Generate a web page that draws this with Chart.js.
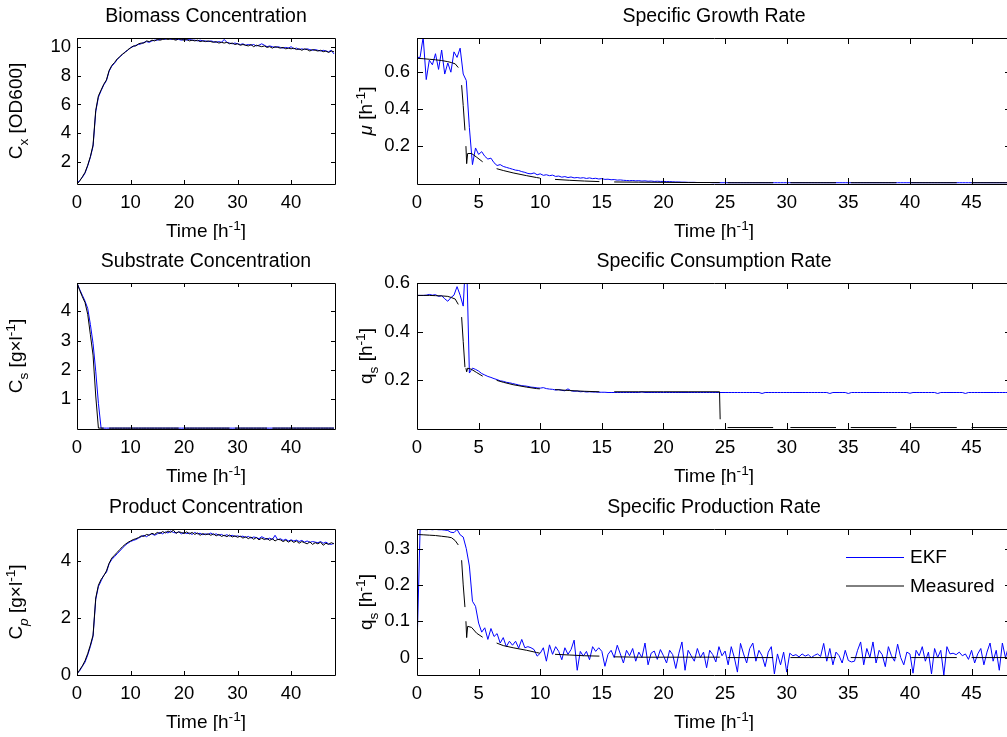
<!DOCTYPE html>
<html>
<head>
<meta charset="utf-8">
<script src="https://cdn.jsdelivr.net/npm/chart.js@4.4.1/dist/chart.umd.min.js"></script>
<style>
  html, body { margin: 0; padding: 0; background: #fff; overflow: hidden; width: 1007px; height: 737px; }
  canvas { position: absolute; }
</style>
</head>
<body>
<script>
// --- time grids (h) ---
const tConc = [
  0,0.5,1,1.5,2,2.5,3,3.5,4,4.5,
  5,5.5,6,6.5,7,7.5,8,8.5,9,9.5,
  10,10.5,11,11.5,12,12.5,13,13.5,14,14.5,
  15,15.5,16,16.5,17,17.5,18,18.5,19,19.5,
  20,20.5,21,21.5,22,22.5,23,23.5,24,24.5,
  25,25.5,26,26.5,27,27.5,28,28.5,29,29.5,
  30,30.5,31,31.5,32,32.5,33,33.5,34,34.5,
  35,35.5,36,36.5,37,37.5,38,38.5,39,39.5,
  40,40.5,41,41.5,42,42.5,43,43.5,44,44.5,
  45,45.5,46,46.5,47,47.5,48
];
const tRate = [
  0,0.25,0.5,0.75,1,1.25,1.5,1.75,2,2.25,2.5,2.75,3,3.25,3.5,3.75,4,4.25,4.5,4.75,
  5,5.25,5.5,5.75,6,6.25,6.5,6.75,7,7.25,7.5,7.75,8,8.25,8.5,8.75,9,9.25,9.5,9.75,
  10,10.25,10.5,10.75,11,11.25,11.5,11.75,12,12.25,12.5,12.75,13,13.25,13.5,13.75,14,14.25,14.5,14.75,
  15,15.25,15.5,15.75,16,16.25,16.5,16.75,17,17.25,17.5,17.75,18,18.25,18.5,18.75,19,19.25,19.5,19.75,
  20,20.25,20.5,20.75,21,21.25,21.5,21.75,22,22.25,22.5,22.75,23,23.25,23.5,23.75,24,24.25,24.5,24.75,
  25,25.25,25.5,25.75,26,26.25,26.5,26.75,27,27.25,27.5,27.75,28,28.25,28.5,28.75,29,29.25,29.5,29.75,
  30,30.25,30.5,30.75,31,31.25,31.5,31.75,32,32.25,32.5,32.75,33,33.25,33.5,33.75,34,34.25,34.5,34.75,
  35,35.25,35.5,35.75,36,36.25,36.5,36.75,37,37.25,37.5,37.75,38,38.25,38.5,38.75,39,39.25,39.5,39.75,
  40,40.25,40.5,40.75,41,41.25,41.5,41.75,42,42.25,42.5,42.75,43,43.25,43.5,43.75,44,44.25,44.5,44.75,
  45,45.25,45.5,45.75,46,46.25,46.5,46.75,47,47.25,47.5,47.75,48
];
// measured rates: irregular samples, null = missing
const tMeas = [
  0,0.5,1,1.5,2,2.5,2.8,3.1,3.35,3.45,
  3.62,3.75,3.89,3.93,
  3.97,4.03,4.11,4.43,4.84,5.33,5.8,
  6.46,7.0,7.8,8.9,9.7,9.97,10.5,
  11.2,12.4,13.6,14.8,15.4,
  16.0,18.0,20.0,22.0,24.55,24.6,24.9,
  25.2,28.9,29.6,30.3,34.0,34.6,35.2,38.9,39.5,40.1,43.8,44.4,45.0,48.2
];

// --- biomass Cx [OD600] ---
const cxEkf = [
  0.55,0.75,0.95,1.25,1.75,2.35,3.1,5.5,6.5,6.95,
  7.35,7.65,8.3,8.65,8.85,9.1,9.3,9.45,9.65,9.75,
  9.95,10.0,10.1,10.15,10.2,10.3,10.35,10.3,10.4,10.45,
  10.45,10.5,10.55,10.5,10.6,10.5,10.55,10.5,10.5,10.45,
  10.5,10.45,10.5,10.45,10.45,10.4,10.45,10.4,10.4,10.35,
  10.4,10.35,10.3,10.35,10.3,10.5,10.3,10.25,10.2,10.25,
  10.2,10.15,10.2,10.1,10.15,10.1,10.15,10.05,10.1,10.2,
  10.1,10.0,10.05,10.0,9.95,10.0,9.95,9.9,9.95,9.9,
  10.0,9.85,9.9,9.8,9.85,9.8,9.85,9.8,9.75,9.8,
  9.75,9.7,9.75,9.7,9.65,9.75,9.5
];
const cxMeas = [
  0.5,0.7,1.0,1.3,1.8,2.4,3.2,5.6,6.6,7.0,
  7.4,7.7,8.35,8.7,8.9,9.15,9.3,9.5,9.6,9.8,
  9.9,10.05,10.05,10.2,10.25,10.25,10.4,10.35,10.45,10.4,
  10.5,10.45,10.5,10.55,10.5,10.55,10.5,10.45,10.55,10.5,
  10.45,10.5,10.4,10.45,10.4,10.45,10.35,10.4,10.35,10.4,
  10.35,10.3,10.35,10.25,10.3,10.25,10.3,10.2,10.25,10.15,
  10.2,10.1,10.15,10.1,10.05,10.15,10.0,10.1,10.05,10.0,
  10.05,9.95,10.0,9.9,10.0,9.95,9.9,9.95,9.85,9.9,
  9.85,9.9,9.8,9.85,9.75,9.85,9.8,9.7,9.8,9.75,
  9.7,9.75,9.65,9.7,9.6,9.7,9.65
];

// --- substrate Cs [g/l] ---
const csEkf = [
  4.97,4.75,4.55,4.35,4.1,3.55,2.9,1.95,0.85,0,
  0,0,0,0,0,0,0,0,0,0,
  0,0,0,0,0,0,0,0,0,0,
  0,0,0,0,0,0,0,0,0,0,
  0,0,0,0,0,0,0,0,0,0,
  0,0,0,0,0,0,0,0,0,0,
  0,0,0,0,0,0,0,0,0,0,
  0,0,0,0,0,0,0,0,0,0,
  0,0,0,0,0,0,0,0,0,0,
  0,0,0,0,0,0,0
];
const csMeas = [
  4.97,4.72,4.5,4.3,3.9,3.2,2.5,1.1,0,0,
  0,null,0,0,0,0,0,0,0,0,
  0,0,0,0,0,0,0,0,0,0,
  0,0,0,0,0,0,0,0,0,null,
  0,0,0,0,0,0,0,0,0,0,
  0,0,0,0,0,0,0,0,null,0,
  0,0,0,0,0,0,0,0,0,0,
  0,0,null,0,0,0,0,0,0,0,
  0,0,0,0,0,0,0,0,0,0,
  0,0,0,0,0,0,0
];

// --- product Cp [g/l] ---
const cpEkf = [
  0.05,0.15,0.3,0.45,0.7,1.0,1.35,2.65,3.1,3.3,
  3.5,3.6,3.9,4.05,4.15,4.25,4.35,4.45,4.55,4.62,
  4.68,4.72,4.75,4.8,4.85,4.9,4.85,4.92,4.95,4.9,
  4.95,5.0,4.95,5.02,4.98,5.05,5.0,4.98,5.02,4.95,
  5.0,4.96,4.98,4.93,5.0,4.95,4.97,4.92,4.95,4.93,
  4.98,4.92,4.95,4.9,4.93,4.88,4.92,4.87,4.9,4.86,
  4.88,4.85,4.87,4.82,4.86,4.8,4.84,4.82,4.78,4.85,
  4.8,4.76,4.8,4.75,4.9,4.74,4.78,4.72,4.76,4.7,
  4.74,4.7,4.73,4.68,4.72,4.66,4.7,4.65,4.68,4.66,
  4.64,4.68,4.62,4.66,4.6,4.58,4.62
];
const cpMeas = [
  0.03,0.18,0.32,0.5,0.75,1.05,1.4,2.7,3.15,3.35,
  3.48,3.65,3.92,4.1,4.2,4.3,4.4,4.5,4.58,4.65,
  4.7,4.75,4.78,4.82,4.88,4.86,4.93,4.9,4.97,4.93,
  5.0,4.96,5.03,4.98,5.05,5.0,5.08,4.97,5.02,5.0,
  4.96,5.02,4.95,5.0,4.93,4.98,4.9,4.96,4.92,4.95,
  4.9,4.95,4.88,4.93,4.86,4.9,4.85,4.91,4.84,4.88,
  4.83,4.87,4.8,4.85,4.78,4.84,4.76,4.82,4.74,4.8,
  4.75,4.79,4.72,4.78,4.7,4.76,4.74,4.68,4.73,4.66,
  4.72,4.65,4.7,4.62,4.68,4.64,4.6,4.67,4.58,4.64,
  4.6,4.66,4.55,4.62,4.58,4.64,4.6
];

// --- specific growth rate mu [1/h] ---
const muEkf = [
  0.68,0.68,0.79,0.56,0.665,0.64,0.70,0.615,0.72,0.59,0.65,0.60,0.71,0.68,0.73,0.59,0.555,0.30,0.10,0.19,
  0.155,0.17,0.145,0.13,0.135,0.11,0.095,0.10,0.09,0.085,0.08,0.075,0.07,0.068,0.062,0.058,0.052,0.05,0.055,0.045,
  0.05,0.042,0.045,0.04,0.043,0.036,0.038,0.032,0.035,0.03,0.033,0.028,0.03,0.027,0.029,0.025,0.028,0.024,0.026,0.022,
  0.024,0.02,0.021,0.018,0.019,0.016,0.017,0.015,0.014,0.013,0.014,0.012,0.013,0.011,0.012,0.01,0.011,0.009,0.01,0.009,
  0.009,0.008,0.008,0.007,0.006,0.006,0.005,0.005,0.004,0.004,0.004,0.003,0.003,0.003,0.003,0.003,0.002,0.002,0.002,0.002,
  0.002,0.002,0.002,0.002,0.002,0.002,0.002,0.002,0.002,0.002,0.002,0.002,0.002,0.002,0.002,0.002,0.002,0.002,0.002,0.002,
  0.002,0.002,0.002,0.002,0.002,0.002,0.002,0.002,0.002,0.002,0.002,0.002,0.002,0.002,0.002,0.002,0.002,0.002,0.002,0.002,
  0.002,0.002,0.002,0.002,0.002,0.002,0.002,0.002,0.002,0.002,0.002,0.002,0.002,0.002,0.002,0.002,0.002,0.002,0.002,0.002,
  0.002,0.002,0.002,0.002,0.002,0.002,0.002,0.002,0.002,0.002,0.002,0.002,0.002,0.002,0.002,0.002,0.002,0.002,0.002,0.002,
  0.002,0.002,0.002,0.002,0.002,0.002,0.002,0.002,0.002,0.002,0.002,0.002,0.002
];
const muMeas = [
  0.675,0.673,0.67,0.667,0.663,0.657,0.652,0.645,0.625,null,
  0.53,0.42,0.285,null,
  0.2,0.105,0.16,0.16,0.14,0.115,null,
  0.078,0.068,0.055,0.04,0.03,0.027,null,
  0.02,0.015,0.011,0.008,null,
  0.006,0.005,0.004,0.003,0.003,0.003,null,
  0.002,0.002,null,0.002,0.002,null,0.002,0.002,null,0.002,0.002,null,0.002,0.002
];

// --- specific consumption rate qs [1/h] ---
const qsEkf = [
  0.549,0.549,0.549,0.55,0.553,0.55,0.552,0.545,0.548,0.535,0.525,0.54,0.55,0.585,0.55,0.505,0.75,0.23,0.25,0.245,
  0.238,0.228,0.222,0.216,0.212,0.207,0.203,0.198,0.196,0.192,0.19,0.187,0.184,0.181,0.178,0.177,0.175,0.172,0.171,0.169,
  0.168,0.17,0.166,0.164,0.163,0.16,0.162,0.159,0.157,0.165,0.157,0.155,0.156,0.153,0.154,0.152,0.153,0.152,0.152,0.151,
  0.151,0.151,0.15,0.15,0.15,0.15,0.15,0.15,0.15,0.15,0.15,0.15,0.15,0.152,0.15,0.15,0.15,0.15,0.15,0.15,
  0.15,0.15,0.15,0.15,0.15,0.15,0.15,0.15,0.15,0.15,0.15,0.15,0.15,0.15,0.15,0.15,0.15,0.15,0.15,0.15,
  0.15,0.15,0.15,0.15,0.15,0.15,0.15,0.15,0.15,0.15,0.15,0.15,0.146,0.15,0.15,0.15,0.15,0.15,0.15,0.15,
  0.15,0.15,0.15,0.15,0.15,0.15,0.15,0.15,0.15,0.15,0.15,0.15,0.15,0.15,0.146,0.15,0.15,0.15,0.15,0.15,
  0.146,0.15,0.15,0.15,0.15,0.15,0.15,0.15,0.15,0.15,0.15,0.15,0.15,0.15,0.15,0.15,0.15,0.15,0.15,0.15,
  0.147,0.15,0.15,0.15,0.15,0.15,0.15,0.15,0.15,0.146,0.15,0.15,0.15,0.15,0.15,0.15,0.15,0.15,0.146,0.15,
  0.15,0.15,0.15,0.15,0.15,0.15,0.15,0.15,0.15,0.15,0.15,0.15,0.15
];
const qsMeas = [
  0.549,0.549,0.549,0.548,0.547,0.545,0.54,0.534,0.512,null,
  0.46,0.36,0.254,null,
  0.25,0.235,0.25,0.245,0.232,0.217,null,
  0.2,0.192,0.182,0.172,0.166,0.165,null,
  0.162,0.158,0.155,0.153,null,
  0.153,0.153,0.153,0.153,0.153,0.04,null,
  0.006,0.006,null,0.006,0.006,null,0.006,0.006,null,0.006,0.006,null,0.006,0.006
];

// --- specific production rate qp [1/h] ---
const qpEkf = [
  0.025,0.352,0.353,0.352,0.353,0.352,0.353,0.352,0.352,0.351,0.35,0.345,0.344,0.353,0.338,0.332,0.3,0.252,0.155,0.141,
  0.095,0.07,0.082,0.05,0.08,0.058,0.066,0.04,0.055,0.03,0.045,0.034,0.045,0.026,0.05,0.027,0.03,0.027,0.022,0.004,
  0.012,0.027,-0.01,0.035,0.009,0.03,0.017,-0.006,0.027,0.009,0.022,0.048,-0.035,0.017,0.004,0.017,-0.006,0.03,0.017,0.027,
  0.017,-0.024,0.009,0.02,0.0,0.034,0.01,-0.015,0.02,0.005,0.025,-0.01,0.015,0.0,0.04,-0.02,0.012,0.018,-0.005,0.022,
  0.005,-0.015,0.02,0.008,-0.03,0.012,0.043,-0.035,0.02,0.005,-0.01,0.025,0.0,0.015,-0.028,0.02,0.008,-0.012,0.03,0.005,
  0.018,-0.02,0.03,0.0,-0.04,0.039,0.01,-0.015,0.025,0.04,-0.01,0.02,0.005,-0.025,0.015,0.03,-0.045,0.01,-0.02,0.015,
  -0.04,0.012,0.005,0.008,0.002,0.01,0.004,0.008,0.0,0.006,0.01,0.003,0.039,-0.01,0.025,-0.02,0.015,0.005,-0.015,0.02,
  -0.008,-0.012,-0.01,0.02,0.043,-0.02,0.025,0.0,0.043,-0.015,0.02,0.008,-0.025,0.03,0.005,-0.01,0.037,0.0,-0.02,0.015,
  0.01,-0.043,0.02,0.005,0.03,-0.01,0.015,-0.045,0.025,0.0,0.02,-0.048,0.03,0.01,0.012,0.008,0.015,0.005,0.01,-0.005,
  0.02,-0.015,0.01,0.025,-0.02,0.015,0.04,-0.01,0.02,-0.035,0.04,0.0,0.03
];
const qpMeas = [
  0.339,0.338,0.337,0.336,0.334,0.332,0.33,0.322,0.31,null,
  0.268,0.2,0.139,null,
  0.1,0.055,0.086,0.083,0.067,0.056,null,
  0.04,0.033,0.027,0.02,0.014,0.012,null,
  0.009,0.007,0.005,0.004,null,
  0.002,0.001,0.001,0.001,0.001,0.001,null,
  0,0,null,0,0,null,0,0,null,0,0,null,0,0
];

// --- tick labels ---
const xTicksLeft = [0, 10, 20, 30, 40];
const xTicksRight = [0, 5, 10, 15, 20, 25, 30, 35, 40, 45];
const yTicksCx = [2, 4, 6, 8, 10];
const yTicksCs = [1, 2, 3, 4];
const yTicksCp = [0, 2, 4];
const yTicksMu = [0.2, 0.4, 0.6];
const yTicksQs = [0.2, 0.4, 0.6];
const yTicksQp = [0, 0.1, 0.2, 0.3];

const FONT = '"Liberation Sans", Arial, Helvetica, sans-serif';
const TXT = '#000';
const TITLE_SIZE = 19.5;
const LABEL_SIZE = 19;
const TICK_SIZE = 18.5;

function pts(t, v) {
  return t.map((x, i) => ({ x: x, y: v[i] }));
}

// draw text made of runs (sub/superscripts, italics)
function runFont(r, size) {
  const s = (r.sub || r.sup) ? size * 0.72 : size;
  return (r.it ? 'italic ' : '') + s + 'px ' + FONT;
}
function richWidth(ctx, runs, size) {
  let w = 0;
  runs.forEach(r => {
    ctx.font = runFont(r, size);
    w += ctx.measureText(r.t).width;
  });
  return w;
}
function drawRich(ctx, runs, cx, y, size) {
  let x = cx - richWidth(ctx, runs, size) / 2;
  ctx.textAlign = 'left';
  ctx.textBaseline = 'alphabetic';
  runs.forEach(r => {
    ctx.font = runFont(r, size);
    let dy = 0;
    if (r.sub) dy = size * 0.3;
    if (r.sup) dy = -size * 0.36;
    ctx.fillText(r.t, x, y + dy);
    x += ctx.measureText(r.t).width;
  });
}

const xLabel = [{ t: 'Time [h' }, { t: '-1', sup: true }, { t: ']' }];

const matlabAxes = {
  id: 'matlabAxes',
  afterDraw(chart, args, o) {
    const ctx = chart.ctx;
    const a = chart.chartArea;
    const xs = chart.scales.x, ys = chart.scales.y;
    ctx.save();
    ctx.strokeStyle = '#000';
    ctx.lineWidth = 1;
    ctx.beginPath();
    ctx.rect(a.left + 0.5, a.top + 0.5, a.right - a.left, a.bottom - a.top);
    xs.ticks.forEach(tk => {
      const px = Math.round(xs.getPixelForValue(tk.value)) + 0.5;
      ctx.moveTo(px, a.bottom); ctx.lineTo(px, a.bottom - o.tl);
      ctx.moveTo(px, a.top); ctx.lineTo(px, a.top + o.tl);
    });
    ys.ticks.forEach(tk => {
      const py = Math.round(ys.getPixelForValue(tk.value)) + 0.5;
      ctx.moveTo(a.left, py); ctx.lineTo(a.left + o.tl, py);
      ctx.moveTo(a.right, py); ctx.lineTo(a.right - o.tl, py);
    });
    ctx.stroke();

    ctx.fillStyle = TXT;
    const cx = (a.left + a.right) / 2;
    ctx.font = TITLE_SIZE + 'px ' + FONT;
    ctx.textAlign = 'center';
    ctx.textBaseline = 'alphabetic';
    ctx.fillText(o.title, cx, a.top - 16.5);
    drawRich(ctx, xLabel, cx, a.bottom + 53, LABEL_SIZE);

    ctx.save();
    ctx.translate(a.left + o.yOff, (a.top + a.bottom) / 2);
    ctx.rotate(-Math.PI / 2);
    drawRich(ctx, o.yLabel, 0, 0, LABEL_SIZE);
    ctx.restore();

    if (o.legend) {
      o.legend.forEach((it, i) => {
        const y = a.top + 28 + i * 28.5;
        ctx.strokeStyle = it.color;
        ctx.beginPath();
        ctx.moveTo(a.left + 429, y + 0.5);
        ctx.lineTo(a.left + 487, y + 0.5);
        ctx.stroke();
        ctx.fillStyle = TXT;
        ctx.font = LABEL_SIZE + 'px ' + FONT;
        ctx.textAlign = 'left';
        ctx.textBaseline = 'middle';
        ctx.fillText(it.text, a.left + 493, y + 1);
      });
    }
    ctx.restore();
  }
};

function makePlot(p) {
  const canvas = document.createElement('canvas');
  canvas.width = p.w;
  canvas.height = 240;
  canvas.style.left = p.left + 'px';
  canvas.style.top = p.top + 'px';
  document.body.appendChild(canvas);

  const line = (t, v, color) => ({
    data: pts(t, v),
    borderColor: color,
    borderWidth: 1,
    pointRadius: 0,
    tension: 0,
    spanGaps: false,
    fill: false,
    clip: 0
  });

  new Chart(canvas, {
    type: 'line',
    data: {
      datasets: [
        line(p.tM, p.meas, '#000000'),
        line(p.tE, p.ekf, '#0000ff')
      ]
    },
    options: {
      responsive: false,
      animation: false,
      events: [],
      layout: { padding: { top: 38, right: p.pr, left: 0, bottom: 0 } },
      scales: {
        x: {
          type: 'linear',
          min: 0, max: 48.2,
          afterBuildTicks: s => { s.ticks = p.xTicks.map(v => ({ value: v })); },
          afterFit: s => { s.height = 56; },
          grid: { display: false, drawTicks: false },
          border: { display: false },
          ticks: {
            autoSkip: false, maxRotation: 0, padding: 8, color: TXT,
            font: { family: FONT, size: TICK_SIZE },
            callback: v => String(v)
          }
        },
        y: {
          type: 'linear',
          min: p.yMin, max: p.yMax,
          afterBuildTicks: s => { s.ticks = p.yTicks.map(v => ({ value: v })); },
          afterFit: s => { s.width = 77; },
          grid: { display: false, drawTicks: false },
          border: { display: false },
          ticks: {
            autoSkip: false, padding: p.yPad, color: TXT,
            font: { family: FONT, size: TICK_SIZE },
            callback: v => String(v)
          }
        }
      },
      plugins: {
        legend: { display: false },
        tooltip: { enabled: false },
        matlabAxes: {
          title: p.title, yLabel: p.yLabel, yOff: p.yOff, tl: p.tl, legend: p.legend
        }
      }
    },
    plugins: [matlabAxes]
  });
}

const leftCol = { left: 0, w: 345, pr: 10, xTicks: xTicksLeft, yOff: -55, tl: 4, yPad: 6, tE: tConc, tM: tConc };
const rightCol = { left: 340, w: 680, pr: 9, xTicks: xTicksRight, yOff: -45, tl: 6, yPad: 7, tE: tRate, tM: tMeas };

makePlot(Object.assign({}, leftCol, {
  top: 0, title: 'Biomass Concentration', ekf: cxEkf, meas: cxMeas,
  yMin: 0.5, yMax: 10.6, yTicks: yTicksCx,
  yLabel: [{ t: 'C' }, { t: 'x', sub: true }, { t: ' [OD600]' }]
}));
makePlot(Object.assign({}, leftCol, {
  top: 245, title: 'Substrate Concentration', ekf: csEkf, meas: csMeas,
  yMin: -0.03, yMax: 4.97, yTicks: yTicksCs,
  yLabel: [{ t: 'C' }, { t: 's', sub: true }, { t: ' [g\u00d7l' }, { t: '-1', sup: true }, { t: ']' }]
}));
makePlot(Object.assign({}, leftCol, {
  top: 491, title: 'Product Concentration', ekf: cpEkf, meas: cpMeas,
  yMin: 0, yMax: 5.12, yTicks: yTicksCp,
  yLabel: [{ t: 'C' }, { t: 'p', sub: true, it: true }, { t: ' [g\u00d7l' }, { t: '-1', sup: true }, { t: ']' }]
}));
makePlot(Object.assign({}, rightCol, {
  top: 0, title: 'Specific Growth Rate', ekf: muEkf, meas: muMeas,
  yMin: -0.005, yMax: 0.785, yTicks: yTicksMu,
  yLabel: [{ t: '\u03bc', it: true }, { t: ' [h' }, { t: '-1', sup: true }, { t: ']' }]
}));
makePlot(Object.assign({}, rightCol, {
  top: 245, title: 'Specific Consumption Rate', ekf: qsEkf, meas: qsMeas,
  yMin: 0, yMax: 0.6, yTicks: yTicksQs,
  yLabel: [{ t: 'q' }, { t: 's', sub: true }, { t: ' [h' }, { t: '-1', sup: true }, { t: ']' }]
}));
makePlot(Object.assign({}, rightCol, {
  top: 491, title: 'Specific Production Rate', ekf: qpEkf, meas: qpMeas,
  yMin: -0.048, yMax: 0.354, yTicks: yTicksQp,
  yLabel: [{ t: 'q' }, { t: 's', sub: true }, { t: ' [h' }, { t: '-1', sup: true }, { t: ']' }],
  legend: [{ text: 'EKF', color: '#0000ff' }, { text: 'Measured', color: '#000000' }]
}));
</script>
</body>
</html>
